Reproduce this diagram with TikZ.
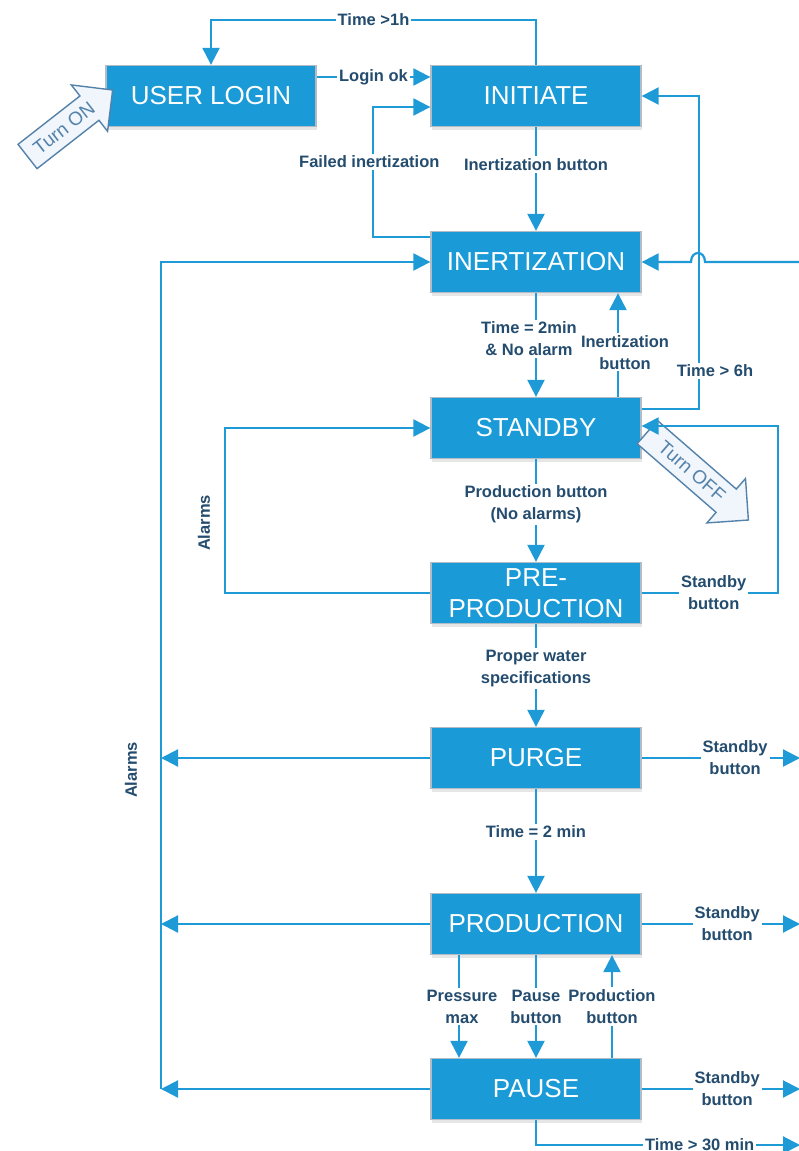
\documentclass[tikz,border=0pt]{standalone}
\usepackage{fontspec}
\setmainfont{Liberation Sans}
\usetikzlibrary{arrows.meta,shapes.arrows,shadows}
\definecolor{boxblue}{RGB}{26,154,214}
\definecolor{boxedge}{RGB}{178,188,198}
\definecolor{lineblue}{RGB}{30,155,215}
\definecolor{lbltext}{RGB}{36,76,110}
\definecolor{arrowline}{RGB}{84,130,170}
\definecolor{arrowfill}{RGB}{240,246,251}
\begin{document}
\begin{tikzpicture} [x=1pt, y=-1pt,
                box_style/.style={rectangle, draw=boxedge, line width=1.3pt, fill=boxblue,
                    minimum width=210pt, minimum height=61pt, inner sep=0pt, text=white,
                    align=center, font=\fontsize{26}{31}\selectfont,
                    drop shadow={opacity=0.2, shadow xshift=1pt, shadow yshift=-3pt}},
                edge_style/.style={draw=lineblue, line width=2.2pt, -{Triangle[length=17pt,width=17pt]}},
                lbl_style/.style={fill=white, text=lbltext, inner sep=2pt, align=center,
                    font=\bfseries\fontsize{16.5}{22}\selectfont}]
                \tikzset{turn_arrow/.style={single arrow, draw=arrowline, line width=1.4pt, fill=arrowfill,
                    text=arrowline, font=\fontsize{19}{19}\selectfont, inner ysep=8pt, inner xsep=4pt,
                    single arrow head extend=14pt}}
                \useasboundingbox (0,0) rectangle (798,1151);
                % states
                \node[box_style] (login) at (211,96) {USER LOGIN};
                \node[box_style] (init) at (536,96) {INITIATE};
                \node[box_style] (inert) at (536,262) {INERTIZATION};
                \node[box_style] (stdby) at (536,428) {STANDBY};
                \node[box_style] (pre) at (536,593) {PRE-\\PRODUCTION};
                \node[box_style] (purge) at (536,758) {PURGE};
                \node[box_style] (prod) at (536,924) {PRODUCTION};
                \node[box_style] (pause) at (536,1089) {PAUSE};
                % on / off
                \node[turn_arrow, minimum height=108pt, rotate=38] (turnon) at (64,128) {Turn ON};
                \node[turn_arrow, minimum height=134pt, rotate=-41] (turnoff) at (692,471) {Turn OFF};
                % free ends
                \coordinate (r_inert) at (800,262);
                \coordinate (r_purge) at (800,758);
                \coordinate (r_prod) at (800,924);
                \coordinate (r_pause) at (800,1089);
                \coordinate (r_wait) at (800,1145);
                \coordinate (al_purge) at (161,758);
                \coordinate (al_prod) at (161,924);
                \coordinate (al_pause) at (161,1089);
                % top part
                \draw[edge_style] (init.north) -- ++(0,-45) -| node[lbl_style, pos=.25] (l_t1h) {Time >1h} (login.north);
                \draw ([yshift=19pt]login.east) edge[edge_style] node[lbl_style] (l_login) {Login ok} ([yshift=19pt]init.west);
                \draw[edge_style] ([yshift=25pt]inert.west) -- ++(-57,0) |- node[lbl_style, pos=.29, xshift=-4pt] (l_fail) {Failed inertization} ([yshift=-11pt]init.west);
                \draw (init) edge[edge_style] node[lbl_style, pos=.36] (l_inbtn) {Inertization button} (inert);
                \draw[edge_style] ([yshift=19pt]stdby.east) -- ++(57,0) |- (init.east);
                \node[lbl_style] (l_t6h) at (715,371) {Time > 6h};
                \draw[edge_style] (r_inert) -- (705,262) .. controls (705,250) and (691,250) .. (691,262) -- (inert.east);
                % standby loop
                \draw (inert) edge[edge_style] node[lbl_style, pos=.44, xshift=-7pt] (l_t2m) {Time = 2min\\\& No alarm} (stdby);
                \draw ([xshift=82pt]stdby.north) edge[edge_style] node[lbl_style, pos=.43, xshift=7pt] (l_inbtn2) {Inertization\\button} ([xshift=82pt]inert.south);
                \draw[edge_style] (pre.west) -- ++(-205,0) |- (stdby.west);
                \node[text=lbltext, rotate=90, font=\bfseries\fontsize{16.5}{22}\selectfont] (l_alarm1) at (204,523) {Alarms};
                \draw[edge_style] (pre.east) -- node[lbl_style, pos=.53] (l_sb1) {Standby\\button} ++(136,0) |- ([yshift=2pt]stdby.east);
                \draw (stdby) edge[edge_style] node[lbl_style, pos=.44] (l_pbtn) {Production button\\(No alarms)} (pre);
                \draw (pre) edge[edge_style] node[lbl_style, pos=.43] (l_water) {Proper water\\specifications} (purge);
                % alarms line
                \draw (purge.west) edge[edge_style] (al_purge);
                \draw (prod.west) edge[edge_style] (al_prod);
                \draw (pause.west) edge[edge_style] (al_pause);
                \draw[edge_style] (al_pause) |- (inert.west);
                \node[text=lbltext, rotate=90, font=\bfseries\fontsize{16.5}{22}\selectfont] (l_alarm2) at (131,770) {Alarms};
                % production part
                \draw (purge) edge[edge_style] node[lbl_style, pos=.41] (l_t2min) {Time = 2 min} (prod);
                \draw ([xshift=-77pt]prod.south) edge[edge_style] node[lbl_style, xshift=3pt] (l_pmax) {Pressure\\max} ([xshift=-77pt]pause.north);
                \draw (prod) edge[edge_style] node[lbl_style] (l_pause) {Pause\\button} (pause);
                \draw ([xshift=76pt]pause.north) edge[edge_style] node[lbl_style] (l_prbtn) {Production\\button} ([xshift=76pt]prod.south);
                % to standby
                \draw (purge.east) edge[edge_style] node[lbl_style, pos=.59] (l_sb2) {Standby\\button} (r_purge);
                \draw (prod.east) edge[edge_style] node[lbl_style, pos=.54] (l_sb3) {Standby\\button} (r_prod);
                \draw (pause.east) edge[edge_style] node[lbl_style, pos=.54] (l_sb4) {Standby\\button} (r_pause);
                \draw[edge_style] (pause.south) |- node[lbl_style, pos=.81] (l_t30) {Time > 30 min} (r_wait);
            \end{tikzpicture}
\end{document}
